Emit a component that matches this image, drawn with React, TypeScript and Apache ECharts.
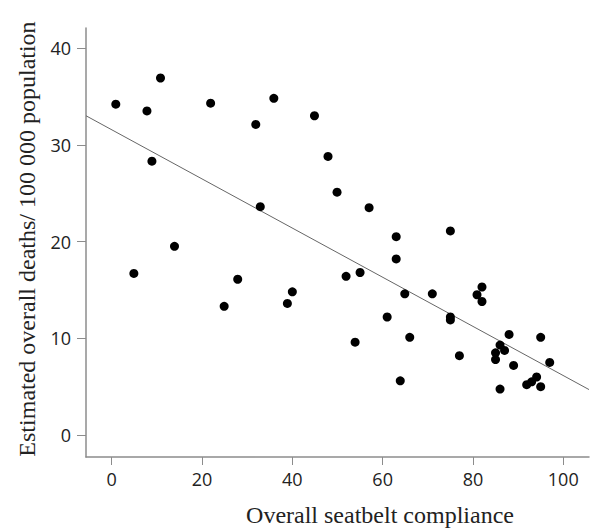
import React, { useEffect, useRef } from "react";
import * as echarts from "echarts";

const compliance: number[] = [
  0.9, 4.9, 7.8, 8.9, 10.8, 13.9, 21.9, 24.9, 27.9, 31.9, 32.9, 35.9, 38.9, 40.0,
  44.9, 47.9, 49.9, 51.9, 53.9, 55.0, 57.0, 61.0, 63.0, 63.0, 63.9, 64.9, 66.0,
  71.0, 75.0, 75.0, 75.0, 77.0, 80.9, 82.0, 82.0, 85.0, 85.0, 86.0, 86.0, 87.0,
  88.0, 89.0, 91.9, 93.0, 94.1, 95.0, 95.0, 97.0,
];
const deaths: number[] = [
  34.2, 16.7, 33.5, 28.3, 36.9, 19.5, 34.3, 13.3, 16.1, 32.1, 23.6, 34.8, 13.6, 14.8,
  33.0, 28.8, 25.1, 16.4, 9.6, 16.8, 23.5, 12.2, 20.5, 18.2, 5.6, 14.6, 10.1,
  14.6, 21.1, 12.2, 11.9, 8.2, 14.5, 15.3, 13.8, 8.5, 7.8, 9.3, 4.75, 8.75,
  10.4, 7.2, 5.2, 5.5, 6.0, 5.0, 10.1, 7.5,
];
const trendX: number[] = [-5.7, 105.7];
const trendY: number[] = [33.0, 4.7];
const xTicks: number[] = [0, 20, 40, 60, 80, 100];
const yTicks: number[] = [0, 10, 20, 30, 40];

const xTitle = "Overall seatbelt compliance";
const yTitle = "Estimated overall deaths/ 100 000 population";

export default function App() {
  const ref = useRef<HTMLDivElement>(null);
  useEffect(() => {
    if (!ref.current) return;
    const chart = echarts.init(ref.current, undefined, { renderer: "svg" });
    const axisColor = "#8c8c8c";
    const labelStyle = {
      color: "#222",
      fontFamily: "'Open Sans', sans-serif",
      fontSize: 18,
    };
    chart.setOption({
      animation: false,
      backgroundColor: "#fff",
      grid: { left: 86, right: 11, top: 28, bottom: 74, containLabel: false },
      xAxis: {
        type: "value",
        min: -5.7,
        max: 105.7,
        splitLine: { show: false },
        axisLine: { show: true, onZero: false, lineStyle: { color: axisColor, width: 1.5 } },
        axisTick: { show: true, length: 8, lineStyle: { color: axisColor }, customValues: xTicks },
        axisLabel: { ...labelStyle, margin: 13, customValues: xTicks },
      },
      yAxis: {
        type: "value",
        min: -2.27,
        max: 42.07,
        splitLine: { show: false },
        axisLine: { show: true, onZero: false, lineStyle: { color: axisColor, width: 1.5 } },
        axisTick: { show: true, length: 9, lineStyle: { color: axisColor }, customValues: yTicks },
        axisLabel: { ...labelStyle, margin: 15, customValues: yTicks },
      },
      graphic: [
        {
          type: "text",
          x: 380,
          y: 515,
          style: {
            text: xTitle,
            font: "24px 'Liberation Serif', 'Times New Roman', serif",
            fill: "#222",
            textAlign: "center",
            textVerticalAlign: "middle",
          },
        },
        {
          type: "text",
          x: 27,
          y: 239,
          rotation: Math.PI / 2,
          style: {
            text: yTitle,
            font: "24px 'Liberation Serif', 'Times New Roman', serif",
            fill: "#222",
            textAlign: "center",
            textVerticalAlign: "middle",
          },
        },
      ],
      series: [
        {
          type: "line",
          data: trendX.map((x, i) => [x, trendY[i]]),
          showSymbol: false,
          symbol: "none",
          lineStyle: { color: "#666", width: 1 },
          silent: true,
          z: 1,
        },
        {
          type: "scatter",
          data: compliance.map((x, i) => [x, deaths[i]]),
          symbol: "circle",
          symbolSize: 9,
          itemStyle: { color: "#000", opacity: 1 },
          z: 2,
        },
      ],
    });
    return () => chart.dispose();
  }, []);
  return (
    <div
      ref={ref}
      style={{ width: 600, height: 531, position: "absolute", left: 0, top: 0 }}
    />
  );
}
